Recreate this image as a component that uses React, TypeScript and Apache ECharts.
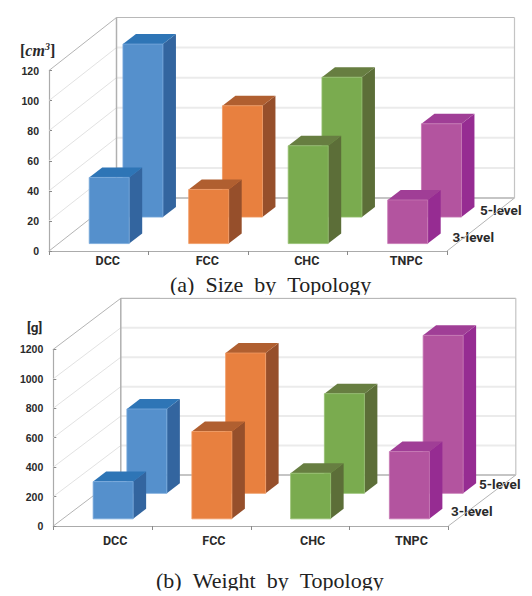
import React, { useEffect, useRef } from "react";
import * as echarts from "echarts";

const categories = ["DCC", "FCC", "CHC", "TNPC"];
const rowLabels = ["3-level", "5-level"];
const sizeTicks = [0, 20, 40, 60, 80, 100, 120];
const weightTicks = [0, 200, 400, 600, 800, 1000, 1200];
const size3Level = [44, 36, 65, 29];
const size5Level = [115, 74, 93, 62];
const weight3Level = [253, 593, 310, 457];
const weight5Level = [573, 953, 677, 1073];

const faceColors = ["#5590cc", "#e8803f", "#7aab4f", "#b3549f"];
const edgeColors = ["#78a9dc", "#f09a63", "#95bf70", "#c677b4"];
const sideColors = ["#33659f", "#964f2b", "#5c6e38", "#962c92"];
const topColors = ["#2e75b6", "#b05f30", "#677e41", "#a03e96"];

const LABEL = "#2a2a2a";
const NARROW = "'Liberation Sans Narrow', 'Roboto', sans-serif";

function wallSeries(ticks: number[], gridIndex: number, dx: number, dy: number) {
  const maxTick = ticks[ticks.length - 1];
  return {
    type: "custom",
    xAxisIndex: gridIndex,
    yAxisIndex: gridIndex,
    z: 1,
    silent: true,
    clip: false,
    data: ticks.map((t) => [0, t]),
    encode: { x: 0, y: 1 },
    renderItem(params: any, api: any) {
      const cs = params.coordSys;
      const v = api.value(1);
      const y = api.coord([0, v])[1];
      const left = cs.x;
      const right = cs.x + cs.width;
      const isFrame = v === 0 || v === maxTick;
      const children: any[] = [
        {
          type: "line",
          shape: { x1: left, y1: y, x2: left + dx, y2: y + dy },
          style: { stroke: isFrame ? "#b4b4b4" : "#e2e2e2", lineWidth: 1 },
        },
        {
          type: "line",
          shape: { x1: left + dx, y1: y + dy, x2: right + dx, y2: y + dy },
          style: {
            stroke: v === 0 ? "#8c8c8c" : v === maxTick ? "#b8b8b8" : "#ebebeb",
            lineWidth: isFrame ? 1.2 : 2,
          },
        },
      ];
      if (v === 0) {
        children.push({
          type: "line",
          shape: { x1: right, y1: y, x2: right + dx, y2: y + dy },
          style: { stroke: "#b4b4b4", lineWidth: 1 },
        });
      }
      if (v === maxTick) {
        const y0 = api.coord([0, 0])[1];
        children.push(
          {
            type: "line",
            shape: { x1: left + dx, y1: y + dy, x2: left + dx, y2: y0 + dy },
            style: { stroke: "#b0b0b0", lineWidth: 1.5 },
          },
          {
            type: "line",
            shape: { x1: right + dx, y1: y + dy, x2: right + dx, y2: y0 + dy },
            style: { stroke: "#c4c4c4", lineWidth: 1.2 },
          }
        );
      }
      return { type: "group", children };
    },
  };
}

function barSeries(
  name: string,
  values: number[],
  gridIndex: number,
  depth: number,
  z: number,
  dx: number,
  dy: number
) {
  return {
    type: "custom",
    name,
    xAxisIndex: gridIndex,
    yAxisIndex: gridIndex,
    z,
    clip: false,
    data: values.map((v, i) => [i, v]),
    encode: { x: 0, y: 1 },
    renderItem(params: any, api: any) {
      const i = api.value(0);
      const top = api.coord([i, api.value(1)]);
      const base = api.coord([i, 0]);
      const w = 40;
      const ox = 1 + dx * depth;
      const oy = dy * depth;
      const bx = 13;
      const by = -10;
      const x0 = top[0] + ox - w / 2;
      const x1 = x0 + w;
      const yt = top[1] + oy;
      const yb = base[1] + oy;
      return {
        type: "group",
        children: [
          {
            type: "polygon",
            shape: { points: [[x1, yt], [x1 + bx, yt + by], [x1 + bx, yb + by], [x1, yb]] },
            style: { fill: sideColors[i] },
          },
          {
            type: "polygon",
            shape: { points: [[x0, yt], [x0 + bx, yt + by], [x1 + bx, yt + by], [x1, yt]] },
            style: { fill: topColors[i] },
          },
          {
            type: "rect",
            shape: { x: x0, y: yt, width: w, height: yb - yt },
            style: { fill: faceColors[i], stroke: edgeColors[i], lineWidth: 0.8 },
          },
        ],
      };
    },
  };
}

function xAxis(gridIndex: number, margin: number, shift: number) {
  return {
    type: "category",
    gridIndex,
    data: categories,
    axisLine: { show: true, lineStyle: { color: "#ababab", width: 1.2 } },
    axisTick: { show: true, length: 4, lineStyle: { color: "#8a8a8a" } },
    axisLabel: {
      color: LABEL,
      fontFamily: NARROW,
      fontWeight: "bold",
      fontSize: 12.5,
      margin,
      padding: [0, 0, 0, shift],
    },
  };
}

function yAxis(gridIndex: number, ticks: number[]) {
  return {
    type: "value",
    gridIndex,
    min: ticks[0],
    max: ticks[ticks.length - 1],
    interval: ticks[1] - ticks[0],
    splitLine: { show: false },
    axisLine: { show: true, lineStyle: { color: "#ababab", width: 1.2 } },
    axisTick: { show: true, inside: true, length: 3, lineStyle: { color: "#8a8a8a" } },
    axisLabel: {
      color: LABEL,
      fontFamily: "'Liberation Sans', sans-serif",
      fontWeight: "bold",
      fontSize: 10.5,
      margin: 10,
      formatter: (v: number) => String(v),
    },
  };
}

function label(text: string, x: number, y: number, extra: any = {}) {
  return {
    type: "text",
    x,
    y,
    style: {
      text,
      fill: LABEL,
      font: `bold 13.5px ${NARROW}`,
      align: "left",
      verticalAlign: "middle",
      ...extra,
    },
  };
}

function caption(text: string, x: number, y: number) {
  return {
    type: "text",
    x,
    y,
    style: {
      text,
      font: "22px 'Liberation Serif', serif",
      fill: "#222222",
      verticalAlign: "middle",
    },
  };
}

export default function App() {
  const ref = useRef<HTMLDivElement>(null);
  useEffect(() => {
    document.body.style.margin = "0";
    const chart = echarts.init(ref.current!, null, { renderer: "svg" });
    const d1 = { dx: 67.5, dy: -53 };
    const d2 = { dx: 67.5, dy: -51 };
    const front = 0.14;
    const back = 0.64;
    chart.setOption({
      animation: false,
      backgroundColor: "#ffffff",
      grid: [
        { left: 49, top: 70.5, width: 398, height: 180.5 },
        { left: 53.3, top: 349.3, width: 395, height: 176.7 },
      ],
      xAxis: [xAxis(0, 3, 18), xAxis(1, 8, 25)],
      yAxis: [yAxis(0, sizeTicks), yAxis(1, weightTicks)],
      series: [
        wallSeries(sizeTicks, 0, d1.dx, d1.dy),
        barSeries(rowLabels[1], size5Level, 0, back, 3, d1.dx, d1.dy),
        barSeries(rowLabels[0], size3Level, 0, front, 4, d1.dx, d1.dy),
        wallSeries(weightTicks, 1, d2.dx, d2.dy),
        barSeries(rowLabels[1], weight5Level, 1, back, 3, d2.dx, d2.dy),
        barSeries(rowLabels[0], weight3Level, 1, front, 4, d2.dx, d2.dy),
      ],
      graphic: [
        label(rowLabels[1], 480, 210),
        label(rowLabels[0], 452.5, 237),
        label(rowLabels[1], 479, 484),
        label(rowLabels[0], 451, 511),
        label("[g]", 27, 327),
        {
          type: "text",
          x: 20,
          y: 50,
          style: {
            text: "{b|[}{i|cm}{s|3}{b|]}",
            verticalAlign: "middle",
            rich: {
              b: { font: "bold 16px 'Liberation Serif', serif", fill: LABEL },
              i: { font: "italic bold 16px 'Liberation Serif', serif", fill: LABEL },
              s: {
                font: "italic bold 10px 'Liberation Serif', serif",
                fill: LABEL,
                padding: [0, 0, 7, 0],
              },
            },
          },
        },
        caption("(a)\u00a0\u00a0Size\u00a0\u00a0by\u00a0\u00a0Topology", 170, 284.5),
        caption("(b)\u00a0\u00a0Weight\u00a0\u00a0by\u00a0\u00a0Topology", 156, 580.5),
        { type: "rect", z: 10, shape: { x: 160, y: 295, width: 220, height: 2.5 }, style: { fill: "#ffffff" } },
        { type: "rect", z: 10, shape: { x: 150, y: 590.5, width: 245, height: 5.5 }, style: { fill: "#ffffff" } },
      ],
    });
    return () => chart.dispose();
  }, []);
  return <div ref={ref} style={{ position: "fixed", left: 0, top: 0, width: 532, height: 596 }} />;
}
